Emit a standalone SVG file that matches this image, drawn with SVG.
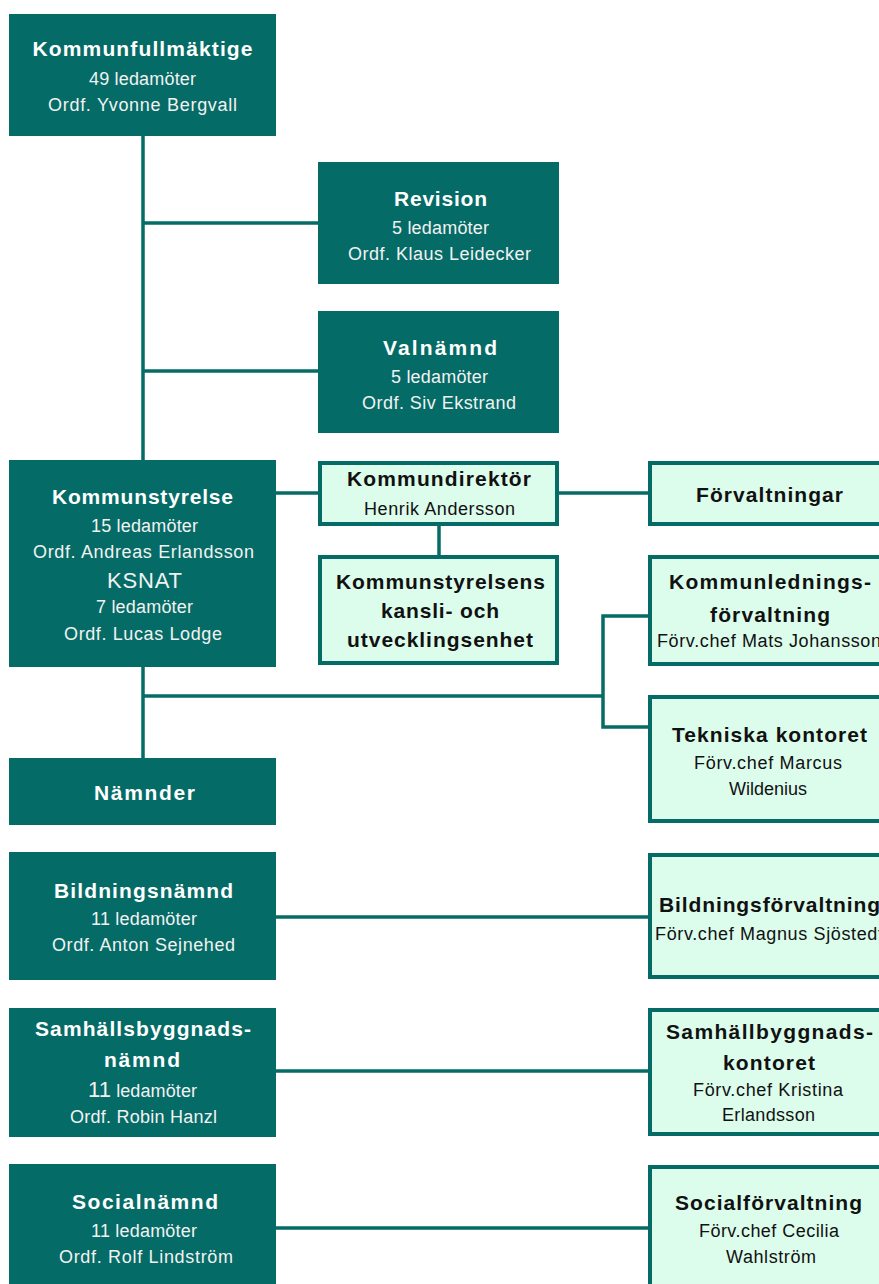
<svg xmlns="http://www.w3.org/2000/svg" width="879" height="1284" viewBox="0 0 879 1284">
<style>
.dk{fill:#056b66}
.lt{fill:#dcfcec;stroke:#056b66;stroke-width:4}
.cn{fill:none;stroke:#056b66;stroke-width:3.5}
text{font-family:"Liberation Sans",Arial,sans-serif;text-anchor:middle}
.w{fill:#ffffff}
.ws{fill:#f2f2f2}
.k{fill:#111111}
.b{font-weight:bold;font-size:21px}
.s{font-size:18px}
</style>
<rect width="879" height="1284" fill="#ffffff"/>
<g id="connectors">
<path class="cn" d="M143,136 V460"/>
<path class="cn" d="M143,223 H318"/>
<path class="cn" d="M143,371 H318"/>
<path class="cn" d="M276,493 H320"/>
<path class="cn" d="M557,493 H650"/>
<path class="cn" d="M439,524 V557"/>
<path class="cn" d="M143,667 V758"/>
<path class="cn" d="M143,696 H603"/>
<path class="cn" d="M650,616 H603 V727 H650"/>
<path class="cn" d="M276,917 H650"/>
<path class="cn" d="M276,1071 H650"/>
<path class="cn" d="M276,1228 H650"/>
</g>
<g id="kommunfullmaktige">
<rect class="dk" x="9" y="14" width="267" height="122"/>
<text class="w b" x="142.5" y="56" textLength="220" lengthAdjust="spacing">Kommunfullmäktige</text>
<text class="ws s" x="142.5" y="85" textLength="107" lengthAdjust="spacing">49 ledamöter</text>
<text class="ws s" x="142.5" y="111" textLength="189" lengthAdjust="spacing">Ordf. Yvonne Bergvall</text>
</g>
<g id="revision">
<rect class="dk" x="318" y="162" width="241" height="122"/>
<text class="w b" x="440.5" y="206" textLength="93" lengthAdjust="spacing">Revision</text>
<text class="ws s" x="440.5" y="234" textLength="97" lengthAdjust="spacing">5 ledamöter</text>
<text class="ws s" x="439.5" y="260" textLength="183" lengthAdjust="spacing">Ordf. Klaus Leidecker</text>
</g>
<g id="valnamnd">
<rect class="dk" x="318" y="311" width="241" height="122"/>
<text class="w b" x="440" y="355" textLength="114" lengthAdjust="spacing">Valnämnd</text>
<text class="ws s" x="439.5" y="383" textLength="97" lengthAdjust="spacing">5 ledamöter</text>
<text class="ws s" x="439" y="409" textLength="154" lengthAdjust="spacing">Ordf. Siv Ekstrand</text>
</g>
<g id="kommunstyrelse">
<rect class="dk" x="9" y="460" width="267" height="207"/>
<text class="w b" x="142.5" y="504" textLength="181" lengthAdjust="spacing">Kommunstyrelse</text>
<text class="ws s" x="144.5" y="532" textLength="107" lengthAdjust="spacing">15 ledamöter</text>
<text class="ws s" x="143.5" y="558" textLength="221" lengthAdjust="spacing">Ordf. Andreas Erlandsson</text>
<text class="ws" x="144.5" y="588" font-size="22" textLength="75" lengthAdjust="spacing">KSNAT</text>
<text class="ws s" x="144.5" y="613" textLength="97" lengthAdjust="spacing">7 ledamöter</text>
<text class="ws s" x="143" y="640" textLength="158" lengthAdjust="spacing">Ordf. Lucas Lodge</text>
</g>
<g id="namnder">
<rect class="dk" x="9" y="758" width="267" height="67"/>
<text class="w b" x="144.5" y="800" textLength="101" lengthAdjust="spacing">Nämnder</text>
</g>
<g id="bildningsnamnd">
<rect class="dk" x="9" y="852" width="267" height="128"/>
<text class="w b" x="143.5" y="898" textLength="179" lengthAdjust="spacing">Bildningsnämnd</text>
<text class="ws s" x="144" y="925" textLength="106" lengthAdjust="spacing">11 ledamöter</text>
<text class="ws s" x="143.5" y="951" textLength="183" lengthAdjust="spacing">Ordf. Anton Sejnehed</text>
</g>
<g id="samhallsbyggnadsnamnd">
<rect class="dk" x="9" y="1008" width="267" height="129"/>
<text class="w b" x="143" y="1036" textLength="216" lengthAdjust="spacing">Samhällsbyggnads-</text>
<text class="w b" x="142" y="1067" textLength="76" lengthAdjust="spacing">nämnd</text>
<text class="ws" x="142.5" y="1097" textLength="109" lengthAdjust="spacing"><tspan font-size="22">11</tspan><tspan font-size="18"> ledamöter</tspan></text>
<text class="ws s" x="143.5" y="1123" textLength="147" lengthAdjust="spacing">Ordf. Robin Hanzl</text>
</g>
<g id="socialnamnd">
<rect class="dk" x="9" y="1164" width="267" height="120"/>
<text class="w b" x="145" y="1209" textLength="146" lengthAdjust="spacing">Socialnämnd</text>
<text class="ws s" x="144" y="1237" textLength="106" lengthAdjust="spacing">11 ledamöter</text>
<text class="ws s" x="146" y="1263" textLength="174" lengthAdjust="spacing">Ordf. Rolf Lindström</text>
</g>
<g id="kommundirektor">
<rect class="lt" x="320" y="463" width="237" height="61"/>
<text class="k b" x="439" y="486" textLength="184" lengthAdjust="spacing">Kommundirektör</text>
<text class="k s" x="439.5" y="515" textLength="151" lengthAdjust="spacing">Henrik Andersson</text>
</g>
<g id="kansli">
<rect class="lt" x="320" y="557" width="237" height="106"/>
<text class="k b" x="440.5" y="589" textLength="209" lengthAdjust="spacing">Kommunstyrelsens</text>
<text class="k b" x="440" y="618" textLength="118" lengthAdjust="spacing">kansli- och</text>
<text class="k b" x="440" y="647" textLength="186" lengthAdjust="spacing">utvecklingsenhet</text>
</g>
<g id="forvaltningar">
<rect class="lt" x="650" y="463" width="240" height="61"/>
<text class="k b" x="769.5" y="502" textLength="147" lengthAdjust="spacing">Förvaltningar</text>
</g>
<g id="kommunledningsforvaltning">
<rect class="lt" x="650" y="557" width="240" height="107"/>
<text class="k b" x="770" y="589" textLength="202" lengthAdjust="spacing">Kommunlednings-</text>
<text class="k b" x="770" y="622" textLength="120" lengthAdjust="spacing">förvaltning</text>
<text class="k s" x="769" y="647" textLength="224" lengthAdjust="spacing">Förv.chef Mats Johansson</text>
</g>
<g id="tekniska">
<rect class="lt" x="650" y="697" width="240" height="124"/>
<text class="k b" x="769.5" y="742" textLength="195" lengthAdjust="spacing">Tekniska kontoret</text>
<text class="k s" x="768" y="769" textLength="148" lengthAdjust="spacing">Förv.chef Marcus</text>
<text class="k s" x="768" y="795" textLength="78" lengthAdjust="spacing">Wildenius</text>
</g>
<g id="bildningsforvaltning">
<rect class="lt" x="650" y="855" width="240" height="122"/>
<text class="k b" x="769.5" y="912" textLength="221" lengthAdjust="spacing">Bildningsförvaltning</text>
<text class="k s" x="769" y="940" textLength="228" lengthAdjust="spacing">Förv.chef Magnus Sjöstedt</text>
</g>
<g id="samhallbyggnadskontoret">
<rect class="lt" x="650" y="1010" width="240" height="124"/>
<text class="k b" x="769.5" y="1039" textLength="207" lengthAdjust="spacing">Samhällbyggnads-</text>
<text class="k b" x="769" y="1070" textLength="92" lengthAdjust="spacing">kontoret</text>
<text class="k s" x="768" y="1096" textLength="150" lengthAdjust="spacing">Förv.chef Kristina</text>
<text class="k s" x="768.5" y="1121" textLength="93" lengthAdjust="spacing">Erlandsson</text>
</g>
<g id="socialforvaltning">
<rect class="lt" x="650" y="1167" width="240" height="130"/>
<text class="k b" x="768.5" y="1210" textLength="187" lengthAdjust="spacing">Socialförvaltning</text>
<text class="k s" x="769" y="1237" textLength="140" lengthAdjust="spacing">Förv.chef Cecilia</text>
<text class="k s" x="771" y="1263" textLength="90" lengthAdjust="spacing">Wahlström</text>
</g>
</svg>
